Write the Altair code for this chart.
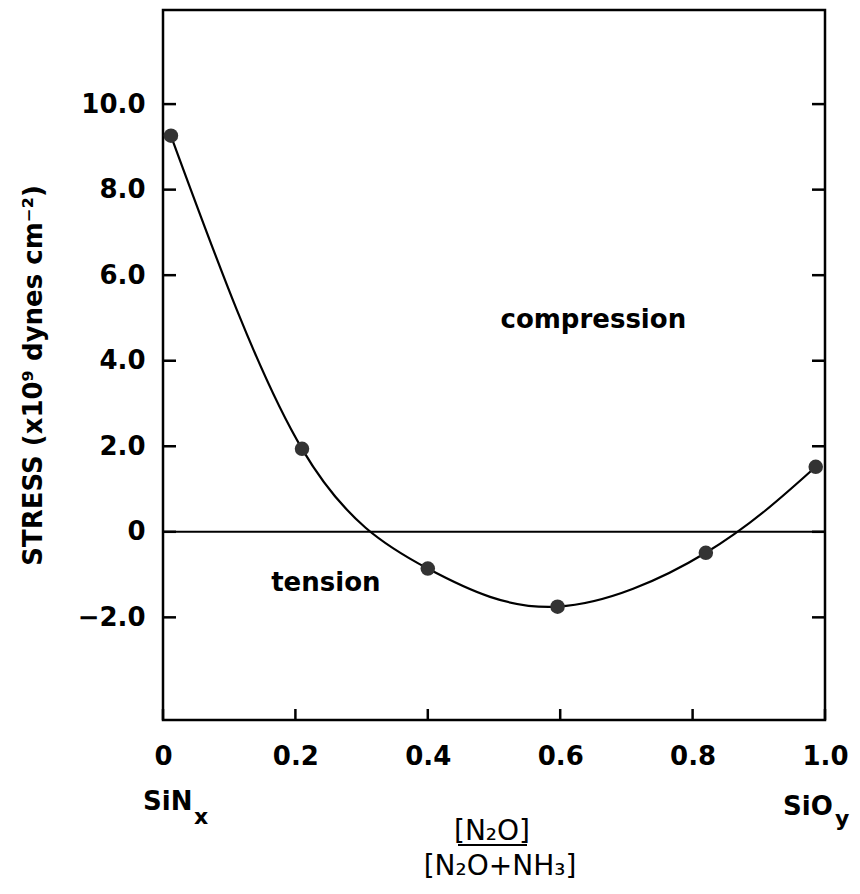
import altair as alt
import pandas as pd

# ---- data ----
ratio = [0.012, 0.21, 0.40, 0.596, 0.82, 0.986]
stress = [9.26, 1.94, -0.86, -1.75, -0.49, 1.52]
x_ticks = [0, 0.2, 0.4, 0.6, 0.8, 1.0]
y_ticks = [-2, 0, 2, 4, 6, 8, 10]
region_labels = ["compression", "tension"]
region_x = [0.65, 0.246]
region_y = [4.95, -1.2]

df = pd.DataFrame({"ratio": ratio, "stress": stress})
regions = pd.DataFrame({"label": region_labels, "x": region_x, "y": region_y})
xt = pd.DataFrame({"xt": x_ticks})
yt = pd.DataFrame({"yt": y_ticks})
zero = pd.DataFrame({"zero": [0]})

FONT = "DejaVu Sans"
W, H = 662, 710

xscale = alt.Scale(domain=[0, 1], nice=False, zero=False)
yscale = alt.Scale(domain=[-4.4, 12.2], nice=False, zero=False)

fmt = "datum.value == 0 ? '0' : format(datum.value, '.1f')"

x_axis = alt.Axis(
    orient="bottom", values=x_ticks, ticks=False, domain=False, grid=False,
    labelExpr=fmt, labelFont=FONT, labelFontSize=26, labelFontWeight="bold",
    labelColor="black", labelBaseline="top", labelPadding=23,
    labelFlush=False, title=None,
)
y_axis = alt.Axis(
    orient="left", values=y_ticks, ticks=False, domain=False, grid=False,
    labelExpr=fmt, labelFont=FONT, labelFontSize=26, labelFontWeight="bold",
    labelColor="black", labelAlign="right", labelBaseline="middle",
    labelPadding=18, labelFlush=False,
    title="STRESS (x10⁹ dynes cm⁻²)", titleFont=FONT, titleFontSize=26,
    titleFontWeight="bold", titleColor="black", titleAngle=270,
    titleX=-130, titleY=H / 2 + 10, titleAlign="center",
    titleBaseline="middle",
)


def X(field):
    return alt.X(field, type="quantitative", scale=xscale, axis=x_axis)


def Y(field):
    return alt.Y(field, type="quantitative", scale=yscale, axis=y_axis)


base = alt.Chart(df)

curve = base.mark_line(interpolate="natural", color="black", strokeWidth=2.2).encode(
    x=X("ratio"), y=Y("stress"),
)

points = base.mark_point(filled=True, size=210, color="#333333", opacity=1).encode(
    x=X("ratio"), y=Y("stress"),
)

zero_line = alt.Chart(zero).mark_rule(color="black", strokeWidth=2).encode(
    y=Y("zero"),
)

# inward tick marks
left_ticks = alt.Chart(yt).mark_rule(color="black", strokeWidth=2.5).encode(
    y=Y("yt"), x=alt.value(0), x2=alt.value(13)
)
right_ticks = alt.Chart(yt).mark_rule(color="black", strokeWidth=2.5).encode(
    y=Y("yt"), x=alt.value(W - 13), x2=alt.value(W)
)
bottom_ticks = alt.Chart(xt).mark_rule(color="black", strokeWidth=2.5).encode(
    x=X("xt"), y=alt.value(H - 11), y2=alt.value(H)
)

region_text = alt.Chart(regions).mark_text(
    font=FONT, fontSize=26, fontWeight="bold", color="black",
    align="center", baseline="middle",
).encode(
    x=X("x"), y=Y("y"), text="label:N",
)


def label(txt, x, y, size=26, align="left", weight="bold"):
    return alt.Chart(pd.DataFrame({"t": [txt]})).mark_text(
        font=FONT, fontSize=size, fontWeight=weight, color="black",
        align=align, baseline="alphabetic", clip=False,
    ).encode(text="t:N", x=alt.value(x), y=alt.value(y))


extra = [
    label("SiN", -20, 800),
    label("x", 31, 814, size=22),
    label("SiO", 620, 805),
    label("y", 672, 816, size=22),
    label("[N₂O]", 329, 830, size=28, align="center", weight="normal"),
    label("[N₂O+NH₃]", 337, 865, size=28, align="center", weight="normal"),
]

bar = alt.Chart(pd.DataFrame({"a": [0]})).mark_rule(color="black", strokeWidth=2).encode(
    x=alt.value(295), x2=alt.value(364), y=alt.value(835)
)

chart = alt.layer(
    zero_line, left_ticks, right_ticks, bottom_ticks, curve, points,
    region_text, *extra, bar
).properties(
    width=W, height=H,
    autosize="none",
    padding={"left": 155, "top": 2, "right": 27, "bottom": 166},
).configure_view(
    stroke="black", strokeWidth=2.5
)

chart.save("out.html", embed_options={"renderer": "svg", "actions": False})
